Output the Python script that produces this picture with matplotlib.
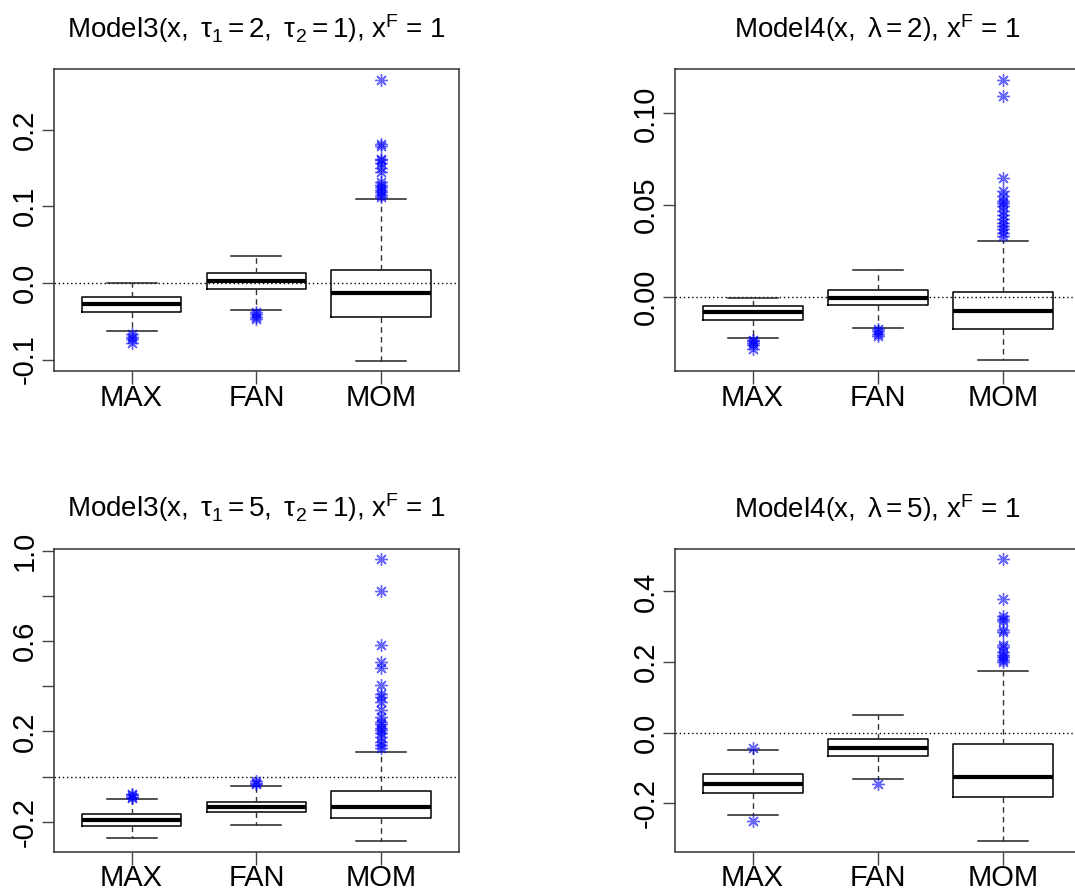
import matplotlib
matplotlib.use("Agg")
import matplotlib.pyplot as plt

plt.rcParams['font.family'] = ['Liberation Sans', 'DejaVu Sans']
plt.rcParams['mathtext.fontset'] = 'custom'
plt.rcParams['mathtext.rm'] = 'Liberation Sans'
plt.rcParams['mathtext.it'] = 'Liberation Sans:italic'
plt.rcParams['mathtext.sf'] = 'Liberation Sans'

methods = ["MAX", "FAN", "MOM"]

titles = [
    r"Model3$\left(\mathrm{x},\ \mathrm{\tau}_1 = 2,\ \mathrm{\tau}_2 = 1\right)$, x$^{\mathrm{F}}$ = 1",
    r"Model4$\left(\mathrm{x},\ \mathrm{\lambda} = 2\right)$, x$^{\mathrm{F}}$ = 1",
    r"Model3$\left(\mathrm{x},\ \mathrm{\tau}_1 = 5,\ \mathrm{\tau}_2 = 1\right)$, x$^{\mathrm{F}}$ = 1",
    r"Model4$\left(\mathrm{x},\ \mathrm{\lambda} = 5\right)$, x$^{\mathrm{F}}$ = 1",
]

# five-number summaries per panel: [whislo, q1, med, q3, whishi] for MAX, FAN, MOM
p1_stats = [[-0.063, -0.0383, -0.0278, -0.0183, 0.0],
            [-0.0357, -0.0074, 0.0022, 0.0126, 0.0348],
            [-0.102, -0.0443, -0.0135, 0.017, 0.1096]]
p1_out = [[-0.067, -0.070, -0.073, -0.079],
          [-0.038, -0.041, -0.044, -0.047],
          [0.265, 0.181, 0.178, 0.162, 0.160, 0.157, 0.150, 0.144, 0.131,
           0.128, 0.125, 0.121, 0.118, 0.115, 0.1126]]

p2_stats = [[-0.0226, -0.0124, -0.0084, -0.0051, -0.0004],
            [-0.0168, -0.0044, -0.0004, 0.0035, 0.0149],
            [-0.0346, -0.0173, -0.0078, 0.0026, 0.0306]]
p2_out = [[-0.0233, -0.0242, -0.0251, -0.026, -0.0284],
          [-0.0175, -0.0188, -0.020, -0.0211],
          [0.1182, 0.1097, 0.065, 0.0577, 0.055, 0.0523, 0.051, 0.0495, 0.0468,
           0.0444, 0.0423, 0.0404, 0.0386, 0.0368, 0.035, 0.0332]]

p3_stats = [[-0.272, -0.217, -0.192, -0.168, -0.099],
            [-0.2126, -0.156, -0.136, -0.112, -0.040],
            [-0.285, -0.183, -0.134, -0.0635, 0.109]]
p3_out = [[-0.078, -0.084, -0.090, -0.097],
          [-0.019, -0.028, -0.035],
          [0.962, 0.822, 0.584, 0.505, 0.481, 0.407, 0.367, 0.350, 0.328, 0.294,
           0.264, 0.242, 0.232, 0.217, 0.205, 0.193, 0.176, 0.153, 0.139, 0.128]]

p4_stats = [[-0.233, -0.170, -0.146, -0.118, -0.049],
            [-0.133, -0.067, -0.0435, -0.018, 0.051],
            [-0.307, -0.182, -0.126, -0.033, 0.174]]
p4_out = [[-0.0425, -0.250],
          [-0.146],
          [0.491, 0.378, 0.330, 0.323, 0.316, 0.292, 0.285, 0.249, 0.243, 0.229,
           0.219, 0.213, 0.207, 0.200]]

ylims = [(-0.115, 0.279), (-0.0404, 0.1242), (-0.332, 1.0096), (-0.337, 0.5215)]
yticks = [[-0.1, 0.0, 0.1, 0.2],
          [0.0, 0.05, 0.10],
          [-0.2, 0.0, 0.2, 0.4, 0.6, 0.8, 1.0],
          [-0.2, 0.0, 0.2, 0.4]]
yticklabels = [["-0.1", "0.0", "0.1", "0.2"],
               ["0.00", "0.05", "0.10"],
               ["-0.2", "", "0.2", "", "0.6", "", "1.0"],
               ["-0.2", "0.0", "0.2", "0.4"]]

all_stats = [p1_stats, p2_stats, p3_stats, p4_stats]
all_out = [p1_out, p2_out, p3_out, p4_out]

W, H = 1075, 892
fig = plt.figure(figsize=(W / 100, H / 100), dpi=100)

# axes boxes in pixels: left, top, right, bottom
boxes_px = [(54, 69, 459, 371), (675, 69, 1080.5, 371),
            (54, 548.5, 459, 851.5), (675, 548.5, 1080.5, 851.5)]

for i in range(4):
    l, t, r, b = boxes_px[i]
    ax = fig.add_axes([l / W, 1 - b / H, (r - l) / W, (b - t) / H])
    stats = []
    for j, m in enumerate(methods):
        lo, q1, med, q3, hi = all_stats[i][j]
        stats.append(dict(label=m, whislo=lo, q1=q1, med=med, q3=q3,
                          whishi=hi, fliers=all_out[i][j]))
    ax.axhline(0, color='black', linestyle=(0, (1, 2)), linewidth=1.0, zorder=1)
    ax.bxp(stats, positions=[1, 2, 3], widths=0.8, capwidths=0.4,
           showfliers=True, patch_artist=False,
           boxprops=dict(color='black', linewidth=1.1),
           medianprops=dict(color='black', linewidth=3.0),
           whiskerprops=dict(color='#333333', linewidth=1.0, linestyle=(0, (4, 3))),
           capprops=dict(color='#222222', linewidth=1.1),
           flierprops=dict(marker=(8, 2, 0), markersize=9, markeredgecolor='blue',
                           markerfacecolor='blue', markeredgewidth=1.0,
                           alpha=0.6, linestyle='none'))
    ax.set_xlim(0.38, 3.62)
    ax.set_ylim(*ylims[i])
    ax.set_yticks(yticks[i])
    ax.set_yticklabels(yticklabels[i], rotation=90, va='center')
    ax.set_xticks([1, 2, 3])
    ax.set_xticklabels(methods)
    ax.tick_params(axis='both', labelsize=21, length=9, width=1.0, color='#444444')
    ax.tick_params(axis='y', pad=2)
    ax.tick_params(axis='x', pad=0)
    for s in ax.spines.values():
        s.set_color('#333333')
        s.set_linewidth(1.1)
    ax.set_title(titles[i], fontsize=20, pad=22)

fig.savefig("out.png", dpi=100)
